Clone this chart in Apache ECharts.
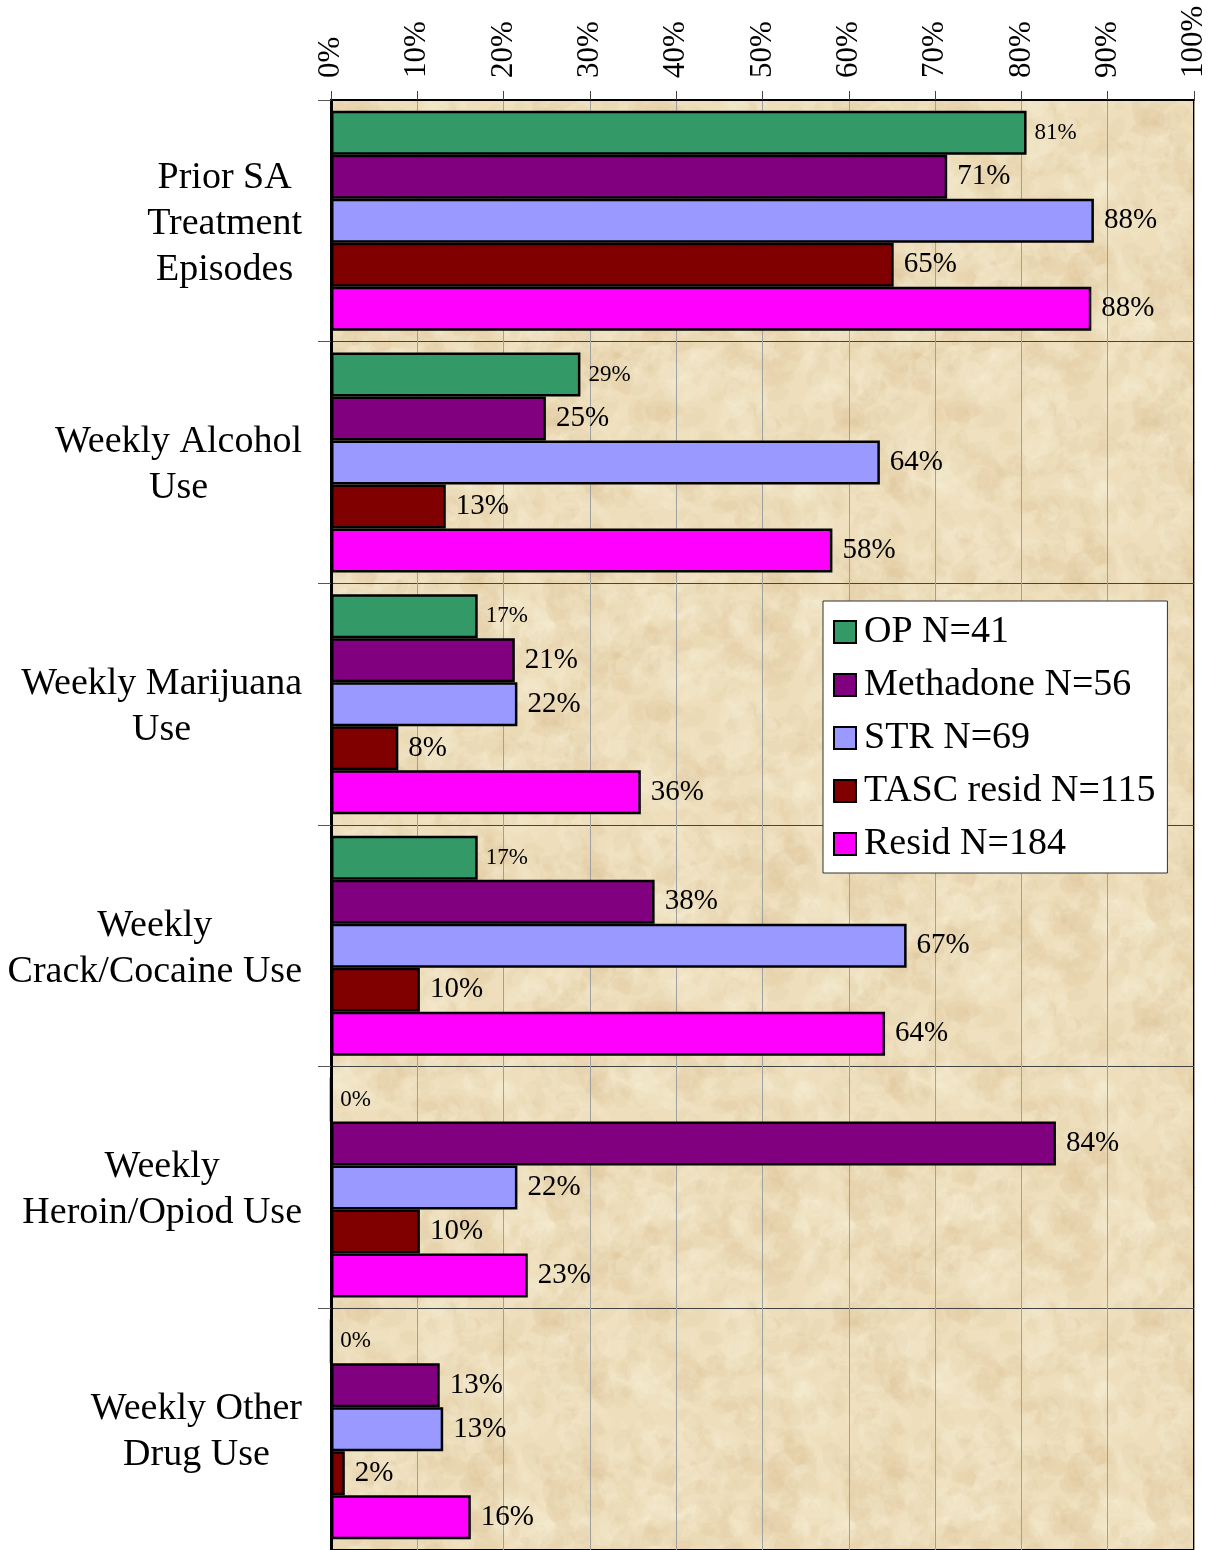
<!DOCTYPE html>
<html>
<head>
<meta charset="utf-8">
<script src="https://cdn.jsdelivr.net/npm/echarts@6/dist/echarts.min.js"></script>
<style>
  html, body { margin: 0; padding: 0; background: #fff; }
  #chart { width: 1210px; height: 1550px; }
</style>
</head>
<body>
<div id="chart"></div>
<script>
const categories = [
  "Prior SA\nTreatment\nEpisodes",
  "Weekly Alcohol\nUse",
  "Weekly Marijuana\nUse",
  "Weekly\nCrack/Cocaine Use",
  "Weekly\nHeroin/Opiod Use",
  "Weekly Other\nDrug Use"
];

const seriesNames = ["OP N=41", "Methadone N=56", "STR N=69", "TASC resid N=115", "Resid N=184"];
const seriesColors = ["#339966", "#800080", "#9999FF", "#800000", "#FF00FF"];

// percentages
const opValues = [80.6, 28.9, 17.0, 17.0, 0, 0];
const methadoneValues = [71.4, 24.9, 21.3, 37.5, 84.0, 12.6];
const strValues = [88.4, 63.6, 21.6, 66.7, 21.6, 13.0];
const tascValues = [65.2, 13.3, 7.8, 10.3, 10.3, 1.6];
const residValues = [88.1, 58.1, 35.9, 64.2, 22.8, 16.2];

const xTicks = { min: 0, max: 100, interval: 10 };

const allValues = [opValues, methadoneValues, strValues, tascValues, residValues];

const serif = "'Liberation Serif', 'Times New Roman', serif";

// parchment-like tile for the plot background (fixed seed, purely decorative)
function parchment() {
  const c = document.createElement("canvas");
  c.width = c.height = 300;
  const g = c.getContext("2d");
  g.fillStyle = "#EEDEBC";
  g.fillRect(0, 0, 300, 300);
  let s = 987;
  const rnd = () => { s = (s * 1103515245 + 12345) % 2147483648; return s / 2147483648; };
  for (let i = 0; i < 700; i++) {
    const x = rnd() * 300, y = rnd() * 300, r = 4 + rnd() * 16;
    const dark = rnd() < 0.5;
    const rot = rnd() * 3;
    g.fillStyle = dark ? "rgba(212,184,134,0.10)" : "rgba(250,242,220,0.16)";
    for (const dx of [-300, 0, 300]) for (const dy of [-300, 0, 300]) {
      g.beginPath();
      g.ellipse(x + dx, y + dy, r, r * 0.6, rot, 0, Math.PI * 2);
      g.fill();
    }
  }
  return c;
}

const chart = echarts.init(document.getElementById("chart"));

const series = allValues.map((vals, i) => ({
  name: seriesNames[i],
  type: "bar",
  data: vals,
  barWidth: 44,
  barGap: "0%",
  itemStyle: {
    color: seriesColors[i],
    borderColor: "#000",
    borderWidth: 2.5
  },
  label: {
    show: true,
    position: "right",
    distance: i === 0 ? 8 : 10,
    fontFamily: serif,
    fontSize: i === 0 ? 23 : 29,
    color: "#000",
    formatter: p => Math.round(p.value) + "%"
  },
  animation: false
}));

chart.setOption({
  backgroundColor: "#fff",
  animation: false,
  grid: {
    left: 331,
    top: 100,
    right: 16,
    height: 1452,
    show: true,
    backgroundColor: { image: parchment(), repeat: "repeat" },
    borderColor: "#000",
    borderWidth: 2
  },
  legend: {
    orient: "vertical",
    left: 823,
    top: 601,
    padding: [12, 12, 10, 10],
    itemGap: 15,
    itemWidth: 22,
    itemHeight: 22,
    backgroundColor: "#fff",
    borderColor: "#333",
    borderWidth: 1,
    icon: "rect",
    textStyle: { fontFamily: serif, fontSize: 38, color: "#000", padding: [0, 0, 0, 3] },
    data: seriesNames
  },
  xAxis: {
    type: "value",
    position: "top",
    min: xTicks.min,
    max: xTicks.max,
    interval: xTicks.interval,
    axisLine: { show: true, lineStyle: { color: "#000", width: 2 } },
    axisTick: { show: true, inside: false, length: 9, lineStyle: { color: "#444", width: 1 } },
    splitLine: { show: true, lineStyle: { color: "#A0A0A0", width: 1 } },
    axisLabel: {
      rotate: -90,
      margin: 22,
      fontFamily: serif,
      fontSize: 31,
      color: "#000",
      formatter: "{value}%"
    }
  },
  yAxis: {
    type: "category",
    inverse: true,
    data: categories,
    axisLine: { show: true, lineStyle: { color: "#000", width: 3 } },
    axisTick: { show: true, length: 13, lineStyle: { color: "#555", width: 1 } },
    splitLine: { show: true, lineStyle: { color: "#444", width: 1 } },
    axisLabel: {
      margin: 29,
      align: "right",
      padding: [6, 0, 0, 0],
      formatter: v => v.split("\n").map(l => "{c|" + l + "}").join("\n"),
      rich: {
        c: { align: "center", fontFamily: serif, fontSize: 38, lineHeight: 46, color: "#000" }
      }
    }
  },
  series: series
});
</script>
</body>
</html>
